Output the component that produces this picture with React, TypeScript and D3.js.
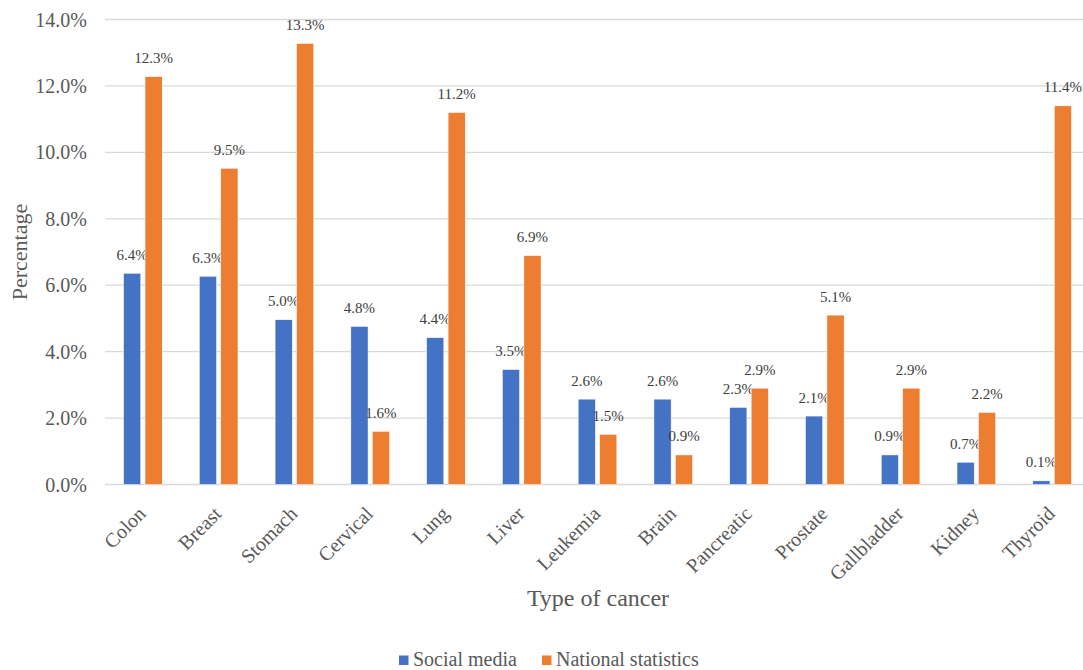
import React from "react";
import * as d3 from "d3";

const categories = ["Colon", "Breast", "Stomach", "Cervical", "Lung", "Liver", "Leukemia", "Brain", "Pancreatic", "Prostate", "Gallbladder", "Kidney", "Thyroid"];
const seriesNames = ["Social media", "National statistics"];
const socialMedia = [6.36, 6.27, 4.96, 4.76, 4.42, 3.46, 2.57, 2.57, 2.32, 2.06, 0.89, 0.67, 0.11];
const nationalStats = [12.28, 9.52, 13.28, 1.6, 11.2, 6.89, 1.51, 0.89, 2.9, 5.1, 2.9, 2.17, 11.4];
const yTicks = [0, 2, 4, 6, 8, 10, 12, 14];
const colors = ["#4472C4", "#ED7D31"];

const W = 1083;
const H = 670;
const left = 105;
const right = 1090;
const top = 19.5;
const bottom = 484.5;
const font = "'Liberation Serif', 'Times New Roman', serif";

export default function App() {
  const x0 = d3.scaleBand<string>().domain(categories).range([left, right]).paddingInner(0.49).paddingOuter(0.245);
  const x1 = d3.scaleBand<string>().domain(seriesNames).range([0, x0.bandwidth()]).paddingInner(0.2).paddingOuter(0);
  const y = d3.scaleLinear().domain([0, 14]).range([bottom, top]);
  const series = [socialMedia, nationalStats];

  return (
    <svg width={W} height={H} style={{ position: "absolute", left: 0, top: 0, background: "#fff" }} fontFamily={font}>
      <rect x={0} y={0} width={W} height={H} fill="#fff" />
      {yTicks.map((t) => (
        <g key={t}>
          <line x1={left} x2={right} y1={y(t)} y2={y(t)} stroke="#D9D9D9" strokeWidth={1.3} />
          <text x={87} y={y(t)} dy="0.35em" textAnchor="end" fontSize={20} fill="#595959">
            {t.toFixed(1) + "%"}
          </text>
        </g>
      ))}
      {categories.map((c, i) => (
        <g key={c}>
          {series.map((vals, s) => {
            const bx = (x0(c) as number) + (x1(seriesNames[s]) as number);
            const bw = x1.bandwidth();
            const v = vals[i];
            return (
              <g key={s}>
                <rect x={bx} y={y(v)} width={bw} height={y(0) - y(v)} fill={colors[s]} stroke="#fff" strokeWidth={0.5} />
                <text x={bx + bw / 2} y={y(v) - 13.5} textAnchor="middle" fontSize={15} fill="#404040">
                  {v.toFixed(1) + "%"}
                </text>
              </g>
            );
          })}
          <text
            transform={`translate(${(x0(c) as number) + x0.bandwidth() / 2 - 6},${505}) rotate(-45)`}
            dy="0.71em"
            textAnchor="end"
            fontSize={20}
            fill="#595959"
          >
            {c}
          </text>
        </g>
      ))}
      <text transform={`translate(27,${(top + bottom) / 2}) rotate(-90)`} textAnchor="middle" fontSize={22} fill="#595959">
        Percentage
      </text>
      <text x={598} y={606} textAnchor="middle" fontSize={24} fill="#595959">
        Type of cancer
      </text>
      {seriesNames.map((n, s) => {
        const lx = s === 0 ? 399 : 542;
        return (
          <g key={n}>
            <rect x={lx} y={655.5} width={9.5} height={9.5} fill={colors[s]} />
            <text x={lx + 14} y={666} fontSize={20} fill="#595959">
              {n}
            </text>
          </g>
        );
      })}
    </svg>
  );
}
